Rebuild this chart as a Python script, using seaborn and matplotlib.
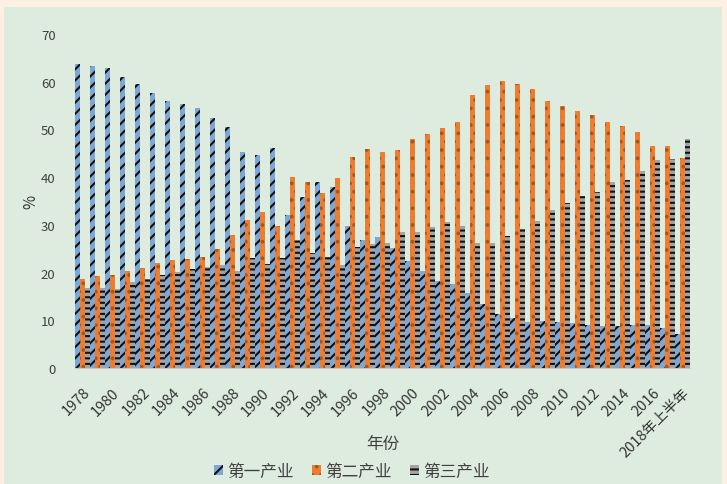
import matplotlib
matplotlib.use("Agg")
import matplotlib.pyplot as plt
from matplotlib.patches import Patch, Rectangle
import seaborn as sns
import pandas as pd

years = [str(y) for y in range(1978, 2018)] + ["2018年上半年"]

# 三次产业占比 (%)
primary = [63.7, 63.2, 62.9, 60.9, 59.5, 57.6, 56.0, 55.3, 54.4, 52.4,
           50.6, 45.2, 44.7, 46.1, 32.1, 35.8, 38.9, 37.9, 29.8, 26.8,
           27.5, 25.1, 22.5, 20.4, 18.2, 17.6, 15.7, 13.4, 11.3, 10.4,
           9.6, 9.9, 9.6, 9.4, 9.0, 8.9, 8.9, 9.0, 9.0, 8.5, 7.1]
secondary = [18.7, 19.2, 19.6, 20.3, 20.9, 22.0, 22.6, 22.9, 23.3, 24.9,
             27.9, 31.0, 32.6, 29.8, 40.1, 38.9, 36.7, 39.8, 44.2, 45.9,
             45.2, 45.7, 47.9, 49.1, 50.2, 51.5, 57.2, 59.2, 60.1, 59.5,
             58.5, 55.9, 54.8, 53.9, 53.1, 51.5, 50.8, 49.4, 46.6, 46.5, 44.1]
tertiary = [16.7, 16.7, 16.6, 18.0, 18.7, 19.4, 20.2, 20.7, 21.1, 21.6,
            20.4, 23.0, 21.7, 23.0, 26.9, 24.1, 23.2, 21.6, 25.3, 26.0,
            26.3, 28.6, 28.6, 29.5, 30.7, 29.8, 26.1, 26.3, 27.7, 29.1,
            30.9, 33.2, 34.6, 36.0, 36.8, 38.9, 39.3, 41.2, 43.5, 43.7, 48.0]
series = ["第一产业", "第二产业", "第三产业"]

df = pd.DataFrame({
    "年份": years * 3,
    "占比": primary + secondary + tertiary,
    "产业": [s for s in series for _ in years],
})

colors = ["#7fa7d6", "#ed7d31", "#a3a3a3"]
hatches = ["///", "..", "---"]
hatch_colors = ["#111111", "#a8561c", "#111111"]

sns.set_theme(style="white")
plt.rcParams["font.family"] = ["Noto Sans CJK SC", "DejaVu Sans"]
plt.rcParams["hatch.linewidth"] = 1.5

fig = plt.figure(figsize=(7.27, 4.85), dpi=100, facecolor="#fdefe3")
fig.patches.append(Rectangle((4 / 727, 0), 718 / 727, 477 / 485,
                             transform=fig.transFigure, facecolor="#deecdf",
                             edgecolor="none", zorder=-10))
ax = fig.add_axes([0.103, 0.239, 0.846, 0.689])
ax.set_facecolor("none")

sns.barplot(data=df, x="年份", y="占比", hue="产业", palette=colors,
            width=1.0, gap=0, saturation=1, legend=False, ax=ax)

for cont, h, hc in zip(ax.containers, hatches, hatch_colors):
    for bar in cont:
        bar.set_hatch(h)
        bar.set_edgecolor(hc)
        bar.set_linewidth(0)

ax.set_ylim(0, 70)
ax.set_yticks(range(0, 71, 10))
ax.set_xlim(-0.5, len(years) - 0.5)
ax.set_xticks(range(0, len(years), 2))
ax.set_xticklabels(years[::2], rotation=45, ha="right", rotation_mode="anchor")
ax.tick_params(axis="y", length=0, colors="#404040", labelsize=9.5, pad=14)
ax.tick_params(axis="x", length=0, colors="#333333", labelsize=10.5, pad=12)

for side in ["top", "right", "left"]:
    ax.spines[side].set_visible(False)
ax.spines["bottom"].set_color("#c8c8c8")
ax.spines["bottom"].set_linewidth(0.8)

ax.set_ylabel("%", fontsize=11, color="#333333")
ax.yaxis.set_label_coords(-0.058, 0.5)
ax.set_xlabel("年份", fontsize=12, color="#404040")
ax.xaxis.set_label_coords(0.5, -0.2)

handles = [Patch(facecolor=c, hatch=h, edgecolor=hc, linewidth=0)
           for c, h, hc in zip(colors, hatches, hatch_colors)]
fig.legend(handles, series, loc="lower center", bbox_to_anchor=(0.484, -0.022),
           ncol=3, frameon=False, fontsize=12, handlelength=0.55,
           handleheight=0.55, handletextpad=0.25, columnspacing=1.1,
           labelcolor="#404040")

fig.savefig("out.png", dpi=100, facecolor=fig.get_facecolor())
